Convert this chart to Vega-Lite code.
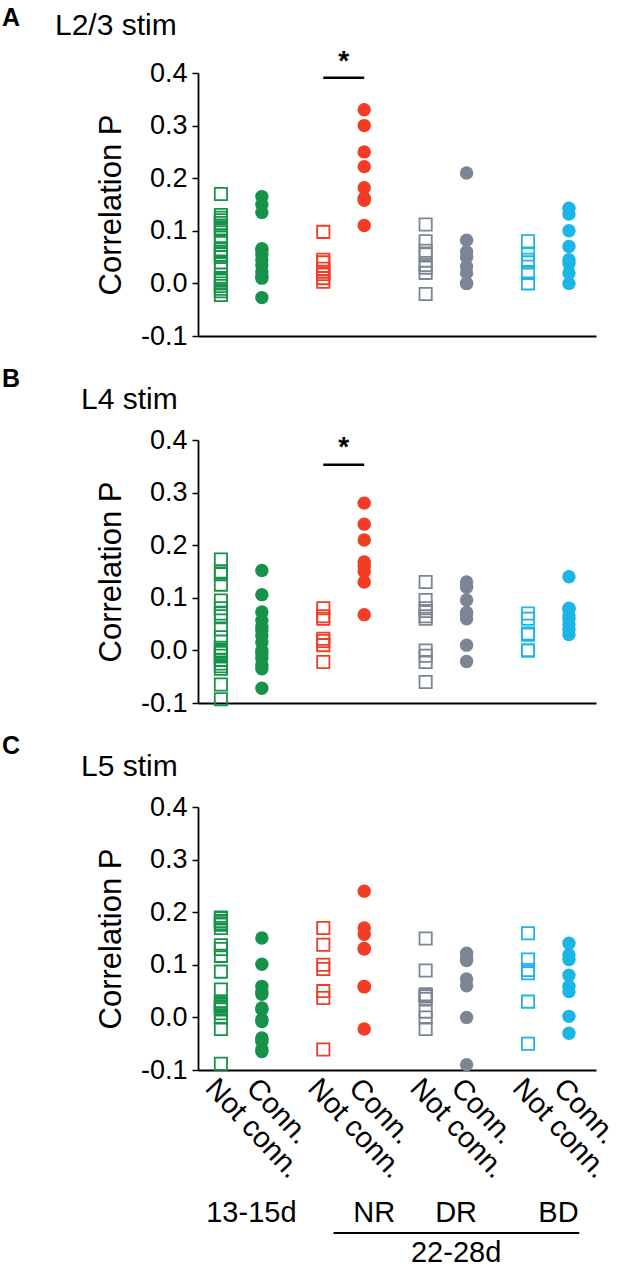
{
  "$schema": "https://vega.github.io/schema/vega-lite/v6.json",
  "padding": {"left": 2, "top": 6, "right": 5, "bottom": 5},
  "config": {
    "view": {"stroke": null},
    "font": "Liberation Sans",
    "title": {"color": "black", "fontWeight": "normal"},
    "text": {"color": "black"}
  },
  "datasets": {
    "pts": [
      {"panel":"A","category":"13-15d|Not conn.","value":0.17},{"panel":"A","category":"13-15d|Not conn.","value":0.13},{"panel":"A","category":"13-15d|Not conn.","value":0.125},{"panel":"A","category":"13-15d|Not conn.","value":0.12},{"panel":"A","category":"13-15d|Not conn.","value":0.115},{"panel":"A","category":"13-15d|Not conn.","value":0.11},{"panel":"A","category":"13-15d|Not conn.","value":0.105},{"panel":"A","category":"13-15d|Not conn.","value":0.1},{"panel":"A","category":"13-15d|Not conn.","value":0.09},{"panel":"A","category":"13-15d|Not conn.","value":0.08},{"panel":"A","category":"13-15d|Not conn.","value":0.065},{"panel":"A","category":"13-15d|Not conn.","value":0.06},{"panel":"A","category":"13-15d|Not conn.","value":0.06},{"panel":"A","category":"13-15d|Not conn.","value":0.055},{"panel":"A","category":"13-15d|Not conn.","value":0.05},{"panel":"A","category":"13-15d|Not conn.","value":0.04},{"panel":"A","category":"13-15d|Not conn.","value":0.03},{"panel":"A","category":"13-15d|Not conn.","value":0.01},{"panel":"A","category":"13-15d|Not conn.","value":0.005},{"panel":"A","category":"13-15d|Not conn.","value":0},{"panel":"A","category":"13-15d|Not conn.","value":-0.005},{"panel":"A","category":"13-15d|Not conn.","value":-0.01},{"panel":"A","category":"13-15d|Not conn.","value":-0.015},{"panel":"A","category":"13-15d|Not conn.","value":-0.022},
      {"panel":"A","category":"13-15d|Conn.","value":0.165},{"panel":"A","category":"13-15d|Conn.","value":0.15},{"panel":"A","category":"13-15d|Conn.","value":0.135},{"panel":"A","category":"13-15d|Conn.","value":0.066},{"panel":"A","category":"13-15d|Conn.","value":0.064},{"panel":"A","category":"13-15d|Conn.","value":0.055},{"panel":"A","category":"13-15d|Conn.","value":0.045},{"panel":"A","category":"13-15d|Conn.","value":0.035},{"panel":"A","category":"13-15d|Conn.","value":0.022},{"panel":"A","category":"13-15d|Conn.","value":0.014},{"panel":"A","category":"13-15d|Conn.","value":0.01},{"panel":"A","category":"13-15d|Conn.","value":-0.027},
      {"panel":"A","category":"NR|Not conn.","value":0.098},{"panel":"A","category":"NR|Not conn.","value":0.045},{"panel":"A","category":"NR|Not conn.","value":0.04},{"panel":"A","category":"NR|Not conn.","value":0.028},{"panel":"A","category":"NR|Not conn.","value":0.022},{"panel":"A","category":"NR|Not conn.","value":0.018},{"panel":"A","category":"NR|Not conn.","value":0.01},{"panel":"A","category":"NR|Not conn.","value":0.003},
      {"panel":"A","category":"NR|Conn.","value":0.33},{"panel":"A","category":"NR|Conn.","value":0.3},{"panel":"A","category":"NR|Conn.","value":0.25},{"panel":"A","category":"NR|Conn.","value":0.222},{"panel":"A","category":"NR|Conn.","value":0.182},{"panel":"A","category":"NR|Conn.","value":0.162},{"panel":"A","category":"NR|Conn.","value":0.158},{"panel":"A","category":"NR|Conn.","value":0.11},
      {"panel":"A","category":"DR|Not conn.","value":0.112},{"panel":"A","category":"DR|Not conn.","value":0.08},{"panel":"A","category":"DR|Not conn.","value":0.062},{"panel":"A","category":"DR|Not conn.","value":0.055},{"panel":"A","category":"DR|Not conn.","value":0.035},{"panel":"A","category":"DR|Not conn.","value":0.03},{"panel":"A","category":"DR|Not conn.","value":0.02},{"panel":"A","category":"DR|Not conn.","value":-0.02},
      {"panel":"A","category":"DR|Conn.","value":0.21},{"panel":"A","category":"DR|Conn.","value":0.082},{"panel":"A","category":"DR|Conn.","value":0.06},{"panel":"A","category":"DR|Conn.","value":0.05},{"panel":"A","category":"DR|Conn.","value":0.032},{"panel":"A","category":"DR|Conn.","value":0.02},{"panel":"A","category":"DR|Conn.","value":0},{"panel":"A","category":"DR|Conn.","value":0},
      {"panel":"A","category":"BD|Not conn.","value":0.08},{"panel":"A","category":"BD|Not conn.","value":0.055},{"panel":"A","category":"BD|Not conn.","value":0.045},{"panel":"A","category":"BD|Not conn.","value":0.04},{"panel":"A","category":"BD|Not conn.","value":0.02},{"panel":"A","category":"BD|Not conn.","value":0},
      {"panel":"A","category":"BD|Conn.","value":0.143},{"panel":"A","category":"BD|Conn.","value":0.132},{"panel":"A","category":"BD|Conn.","value":0.1},{"panel":"A","category":"BD|Conn.","value":0.07},{"panel":"A","category":"BD|Conn.","value":0.045},{"panel":"A","category":"BD|Conn.","value":0.038},{"panel":"A","category":"BD|Conn.","value":0.02},{"panel":"A","category":"BD|Conn.","value":0},

      {"panel":"B","category":"13-15d|Not conn.","value":0.173},{"panel":"B","category":"13-15d|Not conn.","value":0.15},{"panel":"B","category":"13-15d|Not conn.","value":0.145},{"panel":"B","category":"13-15d|Not conn.","value":0.125},{"panel":"B","category":"13-15d|Not conn.","value":0.095},{"panel":"B","category":"13-15d|Not conn.","value":0.08},{"panel":"B","category":"13-15d|Not conn.","value":0.07},{"panel":"B","category":"13-15d|Not conn.","value":0.065},{"panel":"B","category":"13-15d|Not conn.","value":0.04},{"panel":"B","category":"13-15d|Not conn.","value":0.025},{"panel":"B","category":"13-15d|Not conn.","value":0.005},{"panel":"B","category":"13-15d|Not conn.","value":0},{"panel":"B","category":"13-15d|Not conn.","value":-0.002},{"panel":"B","category":"13-15d|Not conn.","value":-0.005},{"panel":"B","category":"13-15d|Not conn.","value":-0.01},{"panel":"B","category":"13-15d|Not conn.","value":-0.018},{"panel":"B","category":"13-15d|Not conn.","value":-0.025},{"panel":"B","category":"13-15d|Not conn.","value":-0.03},{"panel":"B","category":"13-15d|Not conn.","value":-0.035},{"panel":"B","category":"13-15d|Not conn.","value":-0.065},{"panel":"B","category":"13-15d|Not conn.","value":-0.093},
      {"panel":"B","category":"13-15d|Conn.","value":0.152},{"panel":"B","category":"13-15d|Conn.","value":0.106},{"panel":"B","category":"13-15d|Conn.","value":0.073},{"panel":"B","category":"13-15d|Conn.","value":0.057},{"panel":"B","category":"13-15d|Conn.","value":0.045},{"panel":"B","category":"13-15d|Conn.","value":0.038},{"panel":"B","category":"13-15d|Conn.","value":0.028},{"panel":"B","category":"13-15d|Conn.","value":0.015},{"panel":"B","category":"13-15d|Conn.","value":0},{"panel":"B","category":"13-15d|Conn.","value":-0.005},{"panel":"B","category":"13-15d|Conn.","value":-0.015},{"panel":"B","category":"13-15d|Conn.","value":-0.028},{"panel":"B","category":"13-15d|Conn.","value":-0.035},{"panel":"B","category":"13-15d|Conn.","value":-0.072},
      {"panel":"B","category":"NR|Not conn.","value":0.08},{"panel":"B","category":"NR|Not conn.","value":0.065},{"panel":"B","category":"NR|Not conn.","value":0.06},{"panel":"B","category":"NR|Not conn.","value":0.022},{"panel":"B","category":"NR|Not conn.","value":0.018},{"panel":"B","category":"NR|Not conn.","value":0.01},{"panel":"B","category":"NR|Not conn.","value":-0.022},
      {"panel":"B","category":"NR|Conn.","value":0.28},{"panel":"B","category":"NR|Conn.","value":0.24},{"panel":"B","category":"NR|Conn.","value":0.21},{"panel":"B","category":"NR|Conn.","value":0.168},{"panel":"B","category":"NR|Conn.","value":0.16},{"panel":"B","category":"NR|Conn.","value":0.15},{"panel":"B","category":"NR|Conn.","value":0.13},{"panel":"B","category":"NR|Conn.","value":0.068},
      {"panel":"B","category":"DR|Not conn.","value":0.13},{"panel":"B","category":"DR|Not conn.","value":0.096},{"panel":"B","category":"DR|Not conn.","value":0.08},{"panel":"B","category":"DR|Not conn.","value":0.075},{"panel":"B","category":"DR|Not conn.","value":0.065},{"panel":"B","category":"DR|Not conn.","value":0.06},{"panel":"B","category":"DR|Not conn.","value":0},{"panel":"B","category":"DR|Not conn.","value":-0.01},{"panel":"B","category":"DR|Not conn.","value":-0.022},{"panel":"B","category":"DR|Not conn.","value":-0.06},
      {"panel":"B","category":"DR|Conn.","value":0.13},{"panel":"B","category":"DR|Conn.","value":0.12},{"panel":"B","category":"DR|Conn.","value":0.096},{"panel":"B","category":"DR|Conn.","value":0.072},{"panel":"B","category":"DR|Conn.","value":0.07},{"panel":"B","category":"DR|Conn.","value":0.06},{"panel":"B","category":"DR|Conn.","value":0.01},{"panel":"B","category":"DR|Conn.","value":-0.021},
      {"panel":"B","category":"BD|Not conn.","value":0.07},{"panel":"B","category":"BD|Not conn.","value":0.06},{"panel":"B","category":"BD|Not conn.","value":0.032},{"panel":"B","category":"BD|Not conn.","value":0.03},{"panel":"B","category":"BD|Not conn.","value":0},{"panel":"B","category":"BD|Not conn.","value":0},
      {"panel":"B","category":"BD|Conn.","value":0.14},{"panel":"B","category":"BD|Conn.","value":0.08},{"panel":"B","category":"BD|Conn.","value":0.078},{"panel":"B","category":"BD|Conn.","value":0.066},{"panel":"B","category":"BD|Conn.","value":0.06},{"panel":"B","category":"BD|Conn.","value":0.05},{"panel":"B","category":"BD|Conn.","value":0.04},{"panel":"B","category":"BD|Conn.","value":0.03},

      {"panel":"C","category":"13-15d|Not conn.","value":0.19},{"panel":"C","category":"13-15d|Not conn.","value":0.188},{"panel":"C","category":"13-15d|Not conn.","value":0.183},{"panel":"C","category":"13-15d|Not conn.","value":0.179},{"panel":"C","category":"13-15d|Not conn.","value":0.176},{"panel":"C","category":"13-15d|Not conn.","value":0.17},{"panel":"C","category":"13-15d|Not conn.","value":0.137},{"panel":"C","category":"13-15d|Not conn.","value":0.13},{"panel":"C","category":"13-15d|Not conn.","value":0.117},{"panel":"C","category":"13-15d|Not conn.","value":0.087},{"panel":"C","category":"13-15d|Not conn.","value":0.053},{"panel":"C","category":"13-15d|Not conn.","value":0.03},{"panel":"C","category":"13-15d|Not conn.","value":0.027},{"panel":"C","category":"13-15d|Not conn.","value":0.024},{"panel":"C","category":"13-15d|Not conn.","value":0.021},{"panel":"C","category":"13-15d|Not conn.","value":0.018},{"panel":"C","category":"13-15d|Not conn.","value":0.015},{"panel":"C","category":"13-15d|Not conn.","value":0.008},{"panel":"C","category":"13-15d|Not conn.","value":0},{"panel":"C","category":"13-15d|Not conn.","value":-0.022},{"panel":"C","category":"13-15d|Not conn.","value":-0.088},
      {"panel":"C","category":"13-15d|Conn.","value":0.151},{"panel":"C","category":"13-15d|Conn.","value":0.101},{"panel":"C","category":"13-15d|Conn.","value":0.059},{"panel":"C","category":"13-15d|Conn.","value":0.049},{"panel":"C","category":"13-15d|Conn.","value":0.044},{"panel":"C","category":"13-15d|Conn.","value":0.018},{"panel":"C","category":"13-15d|Conn.","value":0.015},{"panel":"C","category":"13-15d|Conn.","value":-0.004},{"panel":"C","category":"13-15d|Conn.","value":-0.008},{"panel":"C","category":"13-15d|Conn.","value":-0.039},{"panel":"C","category":"13-15d|Conn.","value":-0.042},{"panel":"C","category":"13-15d|Conn.","value":-0.046},{"panel":"C","category":"13-15d|Conn.","value":-0.061},{"panel":"C","category":"13-15d|Conn.","value":-0.065},
      {"panel":"C","category":"NR|Not conn.","value":0.17},{"panel":"C","category":"NR|Not conn.","value":0.138},{"panel":"C","category":"NR|Not conn.","value":0.1},{"panel":"C","category":"NR|Not conn.","value":0.092},{"panel":"C","category":"NR|Not conn.","value":0.05},{"panel":"C","category":"NR|Not conn.","value":0.037},{"panel":"C","category":"NR|Not conn.","value":-0.061},
      {"panel":"C","category":"NR|Conn.","value":0.24},{"panel":"C","category":"NR|Conn.","value":0.17},{"panel":"C","category":"NR|Conn.","value":0.158},{"panel":"C","category":"NR|Conn.","value":0.131},{"panel":"C","category":"NR|Conn.","value":0.13},{"panel":"C","category":"NR|Conn.","value":0.059},{"panel":"C","category":"NR|Conn.","value":0.058},{"panel":"C","category":"NR|Conn.","value":-0.022},
      {"panel":"C","category":"DR|Not conn.","value":0.15},{"panel":"C","category":"DR|Not conn.","value":0.089},{"panel":"C","category":"DR|Not conn.","value":0.044},{"panel":"C","category":"DR|Not conn.","value":0.042},{"panel":"C","category":"DR|Not conn.","value":0.04},{"panel":"C","category":"DR|Not conn.","value":0.035},{"panel":"C","category":"DR|Not conn.","value":0.011},{"panel":"C","category":"DR|Not conn.","value":0},{"panel":"C","category":"DR|Not conn.","value":-0.022},
      {"panel":"C","category":"DR|Conn.","value":0.122},{"panel":"C","category":"DR|Conn.","value":0.112},{"panel":"C","category":"DR|Conn.","value":0.108},{"panel":"C","category":"DR|Conn.","value":0.073},{"panel":"C","category":"DR|Conn.","value":0.06},{"panel":"C","category":"DR|Conn.","value":0},{"panel":"C","category":"DR|Conn.","value":-0.09},
      {"panel":"C","category":"BD|Not conn.","value":0.16},{"panel":"C","category":"BD|Not conn.","value":0.11},{"panel":"C","category":"BD|Not conn.","value":0.09},{"panel":"C","category":"BD|Not conn.","value":0.084},{"panel":"C","category":"BD|Not conn.","value":0.03},{"panel":"C","category":"BD|Not conn.","value":-0.05},
      {"panel":"C","category":"BD|Conn.","value":0.141},{"panel":"C","category":"BD|Conn.","value":0.119},{"panel":"C","category":"BD|Conn.","value":0.11},{"panel":"C","category":"BD|Conn.","value":0.08},{"panel":"C","category":"BD|Conn.","value":0.059},{"panel":"C","category":"BD|Conn.","value":0.049},{"panel":"C","category":"BD|Conn.","value":0.002},{"panel":"C","category":"BD|Conn.","value":-0.03}
    ],
    "sig": [
      {"panel":"A","category":"NR|Not conn.","to":"NR|Conn.","value":0.391},
      {"panel":"B","category":"NR|Not conn.","to":"NR|Conn.","value":0.353}
    ],
    "star": [
      {"panel":"A","category":"NR|mid","value":0.42,"label":"*"},
      {"panel":"B","category":"NR|mid","value":0.384,"label":"*"}
    ],
    "grouplabels": [
      {"category":"13-15d|mid","row":"grp","label":"13-15d"},
      {"category":"NR|Conn.","row":"grp","label":"NR"},
      {"category":"DR|mid","row":"grp","label":"DR"},
      {"category":"BD|mid","row":"grp","label":"BD"},
      {"category":"DR|mid","row":"age","label":"22-28d"}
    ],
    "ageline": [
      {"category":"NR|Not conn.","to":"BD|Conn.","row":"line"}
    ]
  },
  "spacing": 18,
  "vconcat": [
    {
      "title": {"text": "A", "anchor": "start", "frame": "group", "fontSize": 25, "fontWeight": "bold", "dx": -196, "offset": -20},
      "bounds": "flush",
      "vconcat": [
        {
          "title": {"text": "L2/3 stim", "anchor": "start", "frame": "group", "fontSize": 30, "dx": -143, "offset": 7},
          "width": 398, "height": 263,
          "layer": [
            {
              "data": {"name": "pts"},
              "transform": [{"filter": {"and": [{"field": "panel", "equal": "A"}, {"field": "category", "oneOf": ["13-15d|Not conn.", "NR|Not conn.", "DR|Not conn.", "BD|Not conn."]}]}}],
              "mark": {"type": "point", "shape": "square", "filled": false, "size": 150, "strokeWidth": 1.8, "opacity": 1},
              "encoding": {
                "x": {"field": "category", "type": "nominal", "scale": {"type": "band", "domain": ["13-15d|Not conn.","13-15d|mid","13-15d|Conn.","gap1","gap2","NR|Not conn.","NR|mid","NR|Conn.","gap3","gap4","DR|Not conn.","DR|mid","DR|Conn.","gap5","gap6","BD|Not conn.","BD|mid","BD|Conn."], "paddingInner": 0, "paddingOuter": 0.72, "align": 0.43}, "axis": {"labels": false, "ticks": false, "title": null, "domainColor": "black", "domainWidth": 1.8}},
                "y": {"field": "value", "type": "quantitative", "scale": {"domain": [-0.1, 0.4], "nice": false, "zero": false}, "axis": {"values": [-0.1, 0, 0.1, 0.2, 0.3, 0.4], "labelExpr": "datum.value < 0 ? '-' + format(-datum.value, '.1f') : format(datum.value, '.1f')", "grid": false, "domainColor": "black", "domainWidth": 1.8, "tickColor": "black", "tickWidth": 1.5, "tickSize": 6, "labelFontSize": 27, "labelColor": "black", "labelPadding": 5, "title": "Correlation P", "titleFontSize": 31, "titleFontWeight": "normal", "titleColor": "black", "titlePadding": 13}},
                "color": {"field": "category", "type": "nominal", "scale": {"domain": ["13-15d|Not conn.","13-15d|Conn.","NR|Not conn.","NR|Conn.","DR|Not conn.","DR|Conn.","BD|Not conn.","BD|Conn."], "range": ["#16924a","#16924a","#f23c24","#f23c24","#7b8594","#7b8594","#1bb5e6","#1bb5e6"]}, "legend": null}
              }
            },
            {
              "data": {"name": "pts"},
              "transform": [{"filter": {"and": [{"field": "panel", "equal": "A"}, {"field": "category", "oneOf": ["13-15d|Conn.", "NR|Conn.", "DR|Conn.", "BD|Conn."]}]}}],
              "mark": {"type": "circle", "size": 180, "opacity": 1},
              "encoding": {
                "x": {"field": "category", "type": "nominal"},
                "y": {"field": "value", "type": "quantitative"},
                "color": {"field": "category", "type": "nominal", "legend": null}
              }
            },
            {
              "data": {"name": "sig"},
              "transform": [{"filter": {"field": "panel", "equal": "A"}}],
              "mark": {"type": "rule", "strokeWidth": 2.5, "color": "black"},
              "encoding": {
                "x": {"field": "category", "type": "nominal"},
                "x2": {"field": "to"},
                "y": {"field": "value", "type": "quantitative"}
              }
            },
            {
              "data": {"name": "star"},
              "transform": [{"filter": {"field": "panel", "equal": "A"}}],
              "mark": {"type": "text", "fontSize": 28, "fontWeight": "bold", "baseline": "middle", "color": "black"},
              "encoding": {
                "x": {"field": "category", "type": "nominal"},
                "y": {"field": "value", "type": "quantitative"},
                "text": {"field": "label"}
              }
            }
          ]
        }
      ]
    },
    {
      "title": {"text": "B", "anchor": "start", "frame": "group", "fontSize": 25, "fontWeight": "bold", "dx": -196, "offset": -7},
      "bounds": "flush",
      "vconcat": [
        {
          "title": {"text": "L4 stim", "anchor": "start", "frame": "group", "fontSize": 30, "dx": -117, "offset": 11},
          "width": 398, "height": 263,
          "layer": [
            {
              "data": {"name": "pts"},
              "transform": [{"filter": {"and": [{"field": "panel", "equal": "B"}, {"field": "category", "oneOf": ["13-15d|Not conn.", "NR|Not conn.", "DR|Not conn.", "BD|Not conn."]}]}}],
              "mark": {"type": "point", "shape": "square", "filled": false, "size": 150, "strokeWidth": 1.8, "opacity": 1},
              "encoding": {
                "x": {"field": "category", "type": "nominal", "scale": {"type": "band", "domain": ["13-15d|Not conn.","13-15d|mid","13-15d|Conn.","gap1","gap2","NR|Not conn.","NR|mid","NR|Conn.","gap3","gap4","DR|Not conn.","DR|mid","DR|Conn.","gap5","gap6","BD|Not conn.","BD|mid","BD|Conn."], "paddingInner": 0, "paddingOuter": 0.72, "align": 0.43}, "axis": {"labels": false, "ticks": false, "title": null, "domainColor": "black", "domainWidth": 1.8}},
                "y": {"field": "value", "type": "quantitative", "scale": {"domain": [-0.1, 0.4], "nice": false, "zero": false}, "axis": {"values": [-0.1, 0, 0.1, 0.2, 0.3, 0.4], "labelExpr": "datum.value < 0 ? '-' + format(-datum.value, '.1f') : format(datum.value, '.1f')", "grid": false, "domainColor": "black", "domainWidth": 1.8, "tickColor": "black", "tickWidth": 1.5, "tickSize": 6, "labelFontSize": 27, "labelColor": "black", "labelPadding": 5, "title": "Correlation P", "titleFontSize": 31, "titleFontWeight": "normal", "titleColor": "black", "titlePadding": 13}},
                "color": {"field": "category", "type": "nominal", "scale": {"domain": ["13-15d|Not conn.","13-15d|Conn.","NR|Not conn.","NR|Conn.","DR|Not conn.","DR|Conn.","BD|Not conn.","BD|Conn."], "range": ["#16924a","#16924a","#f23c24","#f23c24","#7b8594","#7b8594","#1bb5e6","#1bb5e6"]}, "legend": null}
              }
            },
            {
              "data": {"name": "pts"},
              "transform": [{"filter": {"and": [{"field": "panel", "equal": "B"}, {"field": "category", "oneOf": ["13-15d|Conn.", "NR|Conn.", "DR|Conn.", "BD|Conn."]}]}}],
              "mark": {"type": "circle", "size": 180, "opacity": 1},
              "encoding": {
                "x": {"field": "category", "type": "nominal"},
                "y": {"field": "value", "type": "quantitative"},
                "color": {"field": "category", "type": "nominal", "legend": null}
              }
            },
            {
              "data": {"name": "sig"},
              "transform": [{"filter": {"field": "panel", "equal": "B"}}],
              "mark": {"type": "rule", "strokeWidth": 2.5, "color": "black"},
              "encoding": {
                "x": {"field": "category", "type": "nominal"},
                "x2": {"field": "to"},
                "y": {"field": "value", "type": "quantitative"}
              }
            },
            {
              "data": {"name": "star"},
              "transform": [{"filter": {"field": "panel", "equal": "B"}}],
              "mark": {"type": "text", "fontSize": 28, "fontWeight": "bold", "baseline": "middle", "color": "black"},
              "encoding": {
                "x": {"field": "category", "type": "nominal"},
                "y": {"field": "value", "type": "quantitative"},
                "text": {"field": "label"}
              }
            }
          ]
        }
      ]
    },
    {
      "title": {"text": "C", "anchor": "start", "frame": "group", "fontSize": 25, "fontWeight": "bold", "dx": -196, "offset": -7},
      "bounds": "flush",
      "spacing": 133,
      "vconcat": [
        {
          "title": {"text": "L5 stim", "anchor": "start", "frame": "group", "fontSize": 30, "dx": -117, "offset": 11},
          "width": 398, "height": 263,
          "layer": [
            {
              "data": {"name": "pts"},
              "transform": [{"filter": {"and": [{"field": "panel", "equal": "C"}, {"field": "category", "oneOf": ["13-15d|Not conn.", "NR|Not conn.", "DR|Not conn.", "BD|Not conn."]}]}}],
              "mark": {"type": "point", "shape": "square", "filled": false, "size": 150, "strokeWidth": 1.8, "opacity": 1},
              "encoding": {
                "x": {"field": "category", "type": "nominal", "scale": {"type": "band", "domain": ["13-15d|Not conn.","13-15d|mid","13-15d|Conn.","gap1","gap2","NR|Not conn.","NR|mid","NR|Conn.","gap3","gap4","DR|Not conn.","DR|mid","DR|Conn.","gap5","gap6","BD|Not conn.","BD|mid","BD|Conn."], "paddingInner": 0, "paddingOuter": 0.72, "align": 0.43}, "axis": {"values": ["13-15d|Not conn.","13-15d|Conn.","NR|Not conn.","NR|Conn.","DR|Not conn.","DR|Conn.","BD|Not conn.","BD|Conn."], "labelExpr": "(datum.value == '13-15d|Not conn.' || datum.value == 'NR|Not conn.' || datum.value == 'DR|Not conn.' || datum.value == 'BD|Not conn.') ? 'Not conn.' : 'Conn.'", "labelAngle": 47, "labelAlign": "left", "labelBaseline": "top", "labelFontSize": 29, "labelColor": "black", "labelPadding": 3, "labelOverlap": false, "labelBound": false, "labelFlush": false, "ticks": false, "title": null, "domainColor": "black", "domainWidth": 1.8}},
                "y": {"field": "value", "type": "quantitative", "scale": {"domain": [-0.1, 0.4], "nice": false, "zero": false}, "axis": {"values": [-0.1, 0, 0.1, 0.2, 0.3, 0.4], "labelExpr": "datum.value < 0 ? '-' + format(-datum.value, '.1f') : format(datum.value, '.1f')", "grid": false, "domainColor": "black", "domainWidth": 1.8, "tickColor": "black", "tickWidth": 1.5, "tickSize": 6, "labelFontSize": 27, "labelColor": "black", "labelPadding": 5, "title": "Correlation P", "titleFontSize": 31, "titleFontWeight": "normal", "titleColor": "black", "titlePadding": 13}},
                "color": {"field": "category", "type": "nominal", "scale": {"domain": ["13-15d|Not conn.","13-15d|Conn.","NR|Not conn.","NR|Conn.","DR|Not conn.","DR|Conn.","BD|Not conn.","BD|Conn."], "range": ["#16924a","#16924a","#f23c24","#f23c24","#7b8594","#7b8594","#1bb5e6","#1bb5e6"]}, "legend": null}
              }
            },
            {
              "data": {"name": "pts"},
              "transform": [{"filter": {"and": [{"field": "panel", "equal": "C"}, {"field": "category", "oneOf": ["13-15d|Conn.", "NR|Conn.", "DR|Conn.", "BD|Conn."]}]}}],
              "mark": {"type": "circle", "size": 180, "opacity": 1},
              "encoding": {
                "x": {"field": "category", "type": "nominal"},
                "y": {"field": "value", "type": "quantitative"},
                "color": {"field": "category", "type": "nominal", "legend": null}
              }
            }
          ]
        },
        {
          "width": 398, "height": 60,
          "layer": [
            {
              "data": {"name": "grouplabels"},
              "mark": {"type": "text", "fontSize": 29, "dx": 10, "baseline": "middle", "color": "black"},
              "encoding": {
                "x": {"field": "category", "type": "nominal", "scale": {"type": "band", "domain": ["13-15d|Not conn.","13-15d|mid","13-15d|Conn.","gap1","gap2","NR|Not conn.","NR|mid","NR|Conn.","gap3","gap4","DR|Not conn.","DR|mid","DR|Conn.","gap5","gap6","BD|Not conn.","BD|mid","BD|Conn."], "paddingInner": 0, "paddingOuter": 0.72, "align": 0.43}, "axis": null},
                "y": {"field": "row", "type": "nominal", "scale": {"domain": ["grp", "line", "age"]}, "axis": null},
                "text": {"field": "label"}
              }
            },
            {
              "data": {"name": "ageline"},
              "mark": {"type": "rule", "strokeWidth": 1.8, "color": "black"},
              "encoding": {
                "x": {"field": "category", "type": "nominal", "bandPosition": 1},
                "x2": {"field": "to", "bandPosition": 1},
                "y": {"field": "row", "type": "nominal"}
              }
            }
          ]
        }
      ]
    }
  ]
}
